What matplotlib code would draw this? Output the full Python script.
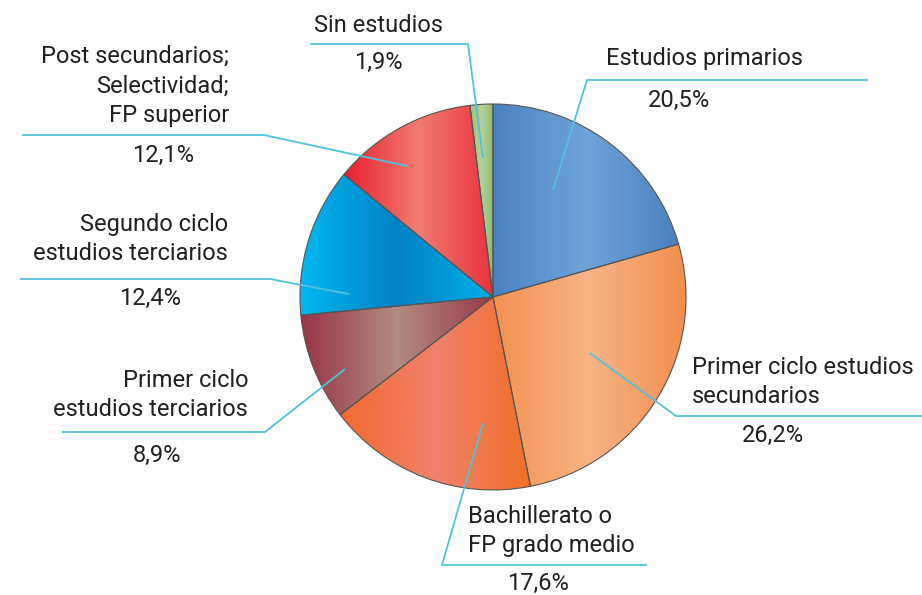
import matplotlib.pyplot as plt
from matplotlib.colors import LinearSegmentedColormap
import numpy as np

# data
labels = ["Estudios primarios", "Primer ciclo estudios\nsecundarios",
          "Bachillerato o\nFP grado medio", "Primer ciclo\nestudios terciarios",
          "Segundo ciclo\nestudios terciarios",
          "Post secundarios;\nSelectividad;\nFP superior", "Sin estudios"]
values = [20.5, 26.2, 17.6, 8.9, 12.4, 12.1, 1.9]
pct_labels = [("%.1f%%" % v).replace(".", ",") for v in values]

# gradient colours per slice (left, middle, right)
grads = [("#4a82c2", "#70a4d7", "#4a80c0"),
         ("#f39150", "#f8b385", "#f38f4e"),
         ("#f26a2e", "#f2806c", "#f07026"),
         ("#983446", "#b28c80", "#983a48"),
         ("#00b8f0", "#0082c6", "#00aee6"),
         ("#e8202e", "#f27c70", "#e8303c"),
         ("#9cc27a", "#b4d09a", "#8ab868")]

# leader layout: anchor in slice, elbow, end of horizontal line (pixel coords, y down)
leaders = [((553, 190), (587, 80), (868, 80)),
           ((590, 353), (676, 416), (922, 416)),
           ((483, 423), (442, 565), (647, 565)),
           ((345, 369), (265, 432), (62, 432)),
           ((349, 294), (270, 279), (20, 279)),
           ((407, 166), (264, 135), (22, 135)),
           ((483, 158), (468, 44), (310, 44))]
# label text position/alignment, percent position
label_pos = [((606, 58), "left"),
             ((692, 382), "left"),
             ((468, 531), "left"),
             ((248, 395), "right"),
             ((228, 239), "right"),
             ((229, 86), "right"),
             ((378, 25), "center")]
pct_pos = [(679, 100), (773, 435), (538, 583), (157, 455), (150, 298), (163, 155), (378, 62)]

W, H = 922, 595
fig = plt.figure(figsize=(W / 100, H / 100), dpi=100)
ax = fig.add_axes([0, 0, 1, 1])
ax.axis("off")

wedges, _ = ax.pie(values, center=(493, H - 297), radius=193, startangle=90,
                   counterclock=False, frame=True,
                   wedgeprops=dict(edgecolor="#555555", linewidth=0.8, facecolor="none"))

for w, (c0, c1, c2) in zip(wedges, grads):
    bb = w.get_path().get_extents()
    cmap = LinearSegmentedColormap.from_list("g", [c0, c1, c2])
    grad = np.linspace(0, 1, 256).reshape(1, -1)
    im = ax.imshow(grad, cmap=cmap, extent=(bb.x0, bb.x1, bb.y0, bb.y1),
                   aspect="auto", interpolation="bicubic", zorder=0.5)
    im.set_clip_path(w)
    w.set_zorder(1)

line_col = "#4fc3dc"
txt_col = "#231f20"
font = "Roboto"
fs = 17
for (a, e, f), lab, (lp, ha), pl, pp in zip(leaders, labels, label_pos, pct_labels, pct_pos):
    xs = [a[0], e[0], f[0]]
    ys = [H - a[1], H - e[1], H - f[1]]
    ax.plot(xs, ys, color=line_col, lw=1.3, zorder=2, solid_capstyle="butt")
    ax.text(lp[0], H - lp[1], lab, ha=ha, va="center", fontsize=fs, color=txt_col,
            family=font, linespacing=1.36, multialignment=ha)
    ax.text(pp[0], H - pp[1], pl, ha="center", va="center", fontsize=fs,
            color=txt_col, family=font)

ax.set_xlim(0, W)
ax.set_ylim(0, H)
ax.set_aspect("auto")
fig.savefig("out.png", dpi=100)
